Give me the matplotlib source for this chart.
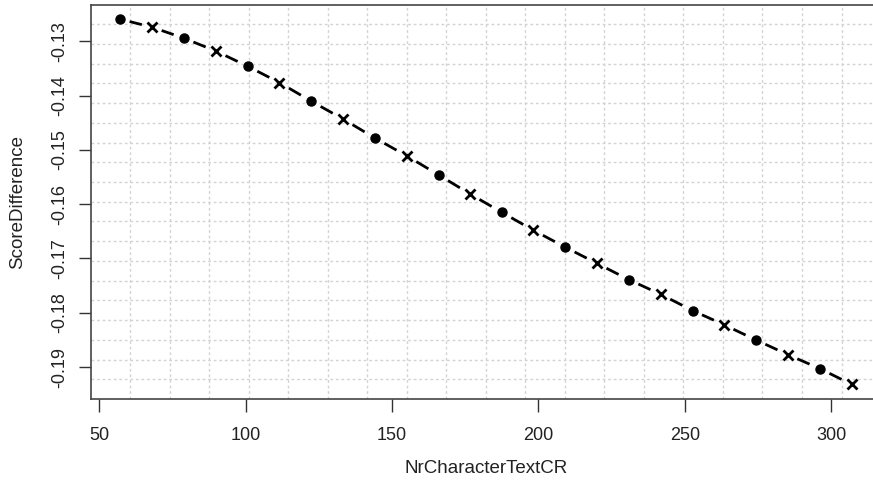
import numpy as np
import matplotlib
matplotlib.use("Agg")
import matplotlib.pyplot as plt

# data
nr_chars = [57.0, 68.0, 78.8, 89.8, 100.7, 111.5, 122.3, 133.2, 144.1, 155.0, 165.9, 176.6,
            187.5, 198.3, 209.1, 220.0, 230.9, 241.8, 252.7, 263.4, 274.3, 285.2, 296.2, 307.1]
score_diff = [-0.1259, -0.1274, -0.1294, -0.1318, -0.1346, -0.1376, -0.1410, -0.1443,
              -0.1478, -0.1511, -0.1546, -0.1581, -0.1615, -0.1648, -0.1679, -0.1709,
              -0.1739, -0.1766, -0.1796, -0.1822, -0.1850, -0.1877, -0.1903, -0.1932]
x_ticks = [50, 100, 150, 200, 250, 300]
y_ticks = [-0.19, -0.18, -0.17, -0.16, -0.15, -0.14, -0.13]

plt.rcParams['font.family'] = ['Liberation Sans', 'DejaVu Sans']

fig = plt.figure(figsize=(8.73, 4.84), dpi=100)
# plot box runs past the right edge, like the cropped original
ax = fig.add_axes([0.1039, 0.1756, 0.9053, 0.8151])

x = np.array(nr_chars)
y = np.array(score_diff)

# R-like 4% axis expansion
xr = x.max() - x.min()
yr = y.max() - y.min()
xlim = (x.min() - 0.04 * xr, x.max() + 0.04 * xr)
ylim = (y.min() - 0.04 * yr, y.max() + 0.04 * yr)
ax.set_xlim(xlim)
ax.set_ylim(ylim)

# grid(20, 20) style: equal divisions of the plot region
for gx in np.linspace(xlim[0], xlim[1], 21)[1:-1]:
    ax.axvline(gx, color='#d3d3d3', lw=1, ls=(0, (2, 2)), zorder=0)
for gy in np.linspace(ylim[0], ylim[1], 21)[1:-1]:
    ax.axhline(gy, color='#d3d3d3', lw=1, ls=(0, (2, 2)), zorder=0)

# type="b" line: one dash between each pair of points
for i in range(len(x) - 1):
    x0, x1 = x[i], x[i + 1]
    y0, y1 = y[i], y[i + 1]
    ax.plot([x0 + 0.3 * (x1 - x0), x0 + 0.68 * (x1 - x0)],
            [y0 + 0.3 * (y1 - y0), y0 + 0.68 * (y1 - y0)],
            color='black', lw=2, solid_capstyle='butt', zorder=2)

ax.plot(x[0::2], y[0::2], 'o', color='black', ms=6.5, zorder=3)
ax.plot(x[1::2], y[1::2], 'x', color='black', ms=7, mew=2, zorder=3)

ax.set_xticks(x_ticks)
ax.set_xticklabels([str(t) for t in x_ticks])
ax.set_yticks(y_ticks)
ax.set_yticklabels([f"{t:.2f}" for t in y_ticks], rotation=90, va='center')

ax.tick_params(axis='both', length=9, width=1, color='#333333', labelsize=13, labelcolor='#222222')
ax.tick_params(axis='x', pad=11)
ax.tick_params(axis='y', pad=7)
for s in ax.spines.values():
    s.set_color('#444444')
    s.set_linewidth(1.2)

ax.set_xlabel('NrCharacterTextCR', fontsize=13.5, color='#222222', labelpad=12)
ax.set_ylabel('ScoreDifference', fontsize=13.5, color='#222222', labelpad=18)

fig.savefig('out.png', dpi=100)
